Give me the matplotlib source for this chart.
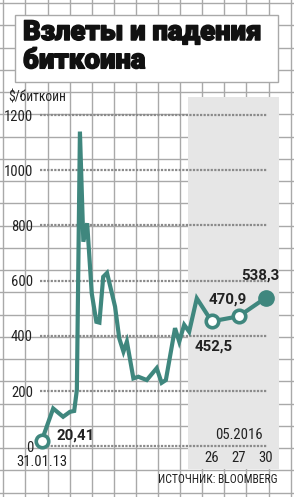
import matplotlib
matplotlib.use("Agg")
import matplotlib.pyplot as plt
from matplotlib import font_manager
from matplotlib.patches import Rectangle
import matplotlib.transforms as mtransforms
import matplotlib.patheffects as pe

# ---------------- data ----------------
title_lines = ["Взлеты и падения", "биткоина"]
unit_label = "$/биткоин"
source_label = "ИСТОЧНИК: BLOOMBERG"
start_label = "31.01.13"
month_label = "05.2016"

# history since 31.01.13 (x in months)
hist_month = [0, 3.0, 5.6, 7.4, 8.5, 9.2, 10.0, 10.9, 11.9, 13.1, 14.3, 15.1,
              16.1, 17.1, 19.2, 20.3, 21.4, 22.3, 24.0, 25.3, 27.5, 30.1,
              31.4, 32.5, 34.9, 36.0, 37.3, 38.6, 40.6]
hist_value = [20.41, 137, 107, 125, 128, 204, 1140, 741, 808, 554, 451, 448,
              614, 628, 506, 391, 343, 379, 246, 252, 240, 283,
              230, 240, 428, 379, 440, 415, 536]

recent_days = ["26", "27", "30"]
recent_value = [452.5, 470.9, 538.3]
recent_labels = ["452,5", "470,9", "538,3"]
start_value_label = "20,41"

yticks = [0, 200, 400, 600, 800, 1000, 1200]

# ---------------- fonts ----------------
available = {f.name for f in font_manager.fontManager.ttflist}
def pick(*names):
    for n in names:
        if n in available:
            return n
    return "DejaVu Sans"

narrow = pick("Liberation Sans Narrow", "Roboto Condensed", "Liberation Sans")
bold_font = pick("Roboto", "Liberation Sans")
title_font = pick("Roboto", "Open Sans", "DejaVu Sans")

# ---------------- layout ----------------
W, H = 294, 497
fig = plt.figure(figsize=(W / 100, H / 100), dpi=100)
fig.patch.set_facecolor("white")

grid_col = "#a9a9a9"
teal = "#3f877e"
txt = "#222222"

bg = fig.add_axes([0, 0, 1, 1])
bg.set_xlim(0, W)
bg.set_ylim(H, 0)
bg.axis("off")
k = 0
while 3.3 + 22.1 * k < W:
    bg.axvline(3.3 + 22.1 * k, color=grid_col, lw=1.0, zorder=0)
    k += 1
k = 0
while 3.2 + 22.25 * k < H:
    bg.axhline(3.2 + 22.25 * k, color=grid_col, lw=1.0, zorder=0)
    k += 1

bg.add_patch(Rectangle((14.5, 14.5), 263.8, 67.2, facecolor="white",
                       edgecolor=grid_col, lw=1.0, zorder=1))
heavy = [pe.withStroke(linewidth=1.1, foreground="#111111")]
for yb, line in zip([40, 68.3], title_lines):
    bg.text(23, yb, line, fontsize=19.8, fontweight="black",
            family=[title_font, "DejaVu Sans"], color="#111111", va="baseline",
            ha="left", zorder=2, path_effects=heavy)
bg.text(8.3, 97.3, unit_label, fontsize=9.8, family=[narrow, "DejaVu Sans"],
        color=txt, va="center", ha="left", zorder=2)
bg.text(277.3, 479.7, source_label, fontsize=8.4, family=[narrow, "DejaVu Sans"],
        color=txt, va="center", ha="right", zorder=2)

# main axes
ax = fig.add_axes([40 / W, (H - 468.7) / H, 227.3 / W, 372 / H])
ax.set_facecolor("none")
ax.set_xlim(-0.45, 59.06)
ax.set_ylim(-81.1, 1266.3)
for s in ax.spines.values():
    s.set_visible(False)

recent_start, recent_step = 44.5, 7.1
recent_pos = [recent_start + i * recent_step for i in range(len(recent_days))]

# shaded recent period
ax.axvspan(38.38, 62.12, ymin=0, ymax=1, color="#e6e6e6", zorder=0,
           clip_on=False, lw=0)

# dotted value lines
ax.hlines(yticks, -0.45, 59.06, colors="#8a8a8a", lw=1.6,
          linestyles=(0, (1.0, 0.6)), zorder=1)

ax.set_yticks(yticks)
ax.set_yticklabels([str(v) for v in yticks], family=[narrow, "DejaVu Sans"],
                   fontsize=10.5, color=txt)
ax.tick_params(axis="y", length=0, pad=5)
ax.set_xticks([])

xs = hist_month + recent_pos
ys = hist_value + recent_value
ax.plot(xs, ys, color=teal, lw=3.0, solid_joinstyle="miter", zorder=3,
        clip_on=False)
ax.plot([hist_month[0]], [hist_value[0]], "o", ms=9, mfc="white", mec=teal,
        mew=2.6, zorder=4, clip_on=False)
ax.plot(recent_pos[:2], recent_value[:2], "o", ms=9, mfc="white", mec=teal,
        mew=2.6, zorder=4, clip_on=False)
ax.plot(recent_pos[2:], recent_value[2:], "o", ms=11, mfc=teal, mec=teal,
        zorder=4, clip_on=False)

lab_kw = dict(fontsize=10.8, fontweight="bold", family=[bold_font, "DejaVu Sans"],
              color=txt, textcoords="offset points", va="center")
ax.annotate(start_value_label, (hist_month[0], hist_value[0]),
            xytext=(15 * 0.72, 4.7 * 0.72), ha="left", **lab_kw)
ax.annotate(recent_labels[0], (recent_pos[0], recent_value[0]),
            xytext=(-16.7 * 0.72, -25 * 0.72), ha="left", **lab_kw)
ax.annotate(recent_labels[1], (recent_pos[1], recent_value[1]),
            xytext=(-30.7 * 0.72, 16.7 * 0.72), ha="left", **lab_kw)
ax.annotate(recent_labels[2], (recent_pos[2], recent_value[2]),
            xytext=(14 * 0.72, 22.3 * 0.72), ha="right", **lab_kw)

tr = mtransforms.blended_transform_factory(ax.transData, ax.transAxes)
small = dict(family=[narrow, "DejaVu Sans"], fontsize=10.5, color=txt,
             transform=tr, ha="center", va="center")
for p, d in zip(recent_pos, recent_days):
    ax.text(p, (468.7 - 458) / 372, d, **small)
ax.text(recent_pos[1], (468.7 - 435.3) / 372, month_label, **small)
ax.text(hist_month[0], (468.7 - 461.7) / 372, start_label, **small)

fig.savefig("out.png", dpi=100, facecolor="white")
